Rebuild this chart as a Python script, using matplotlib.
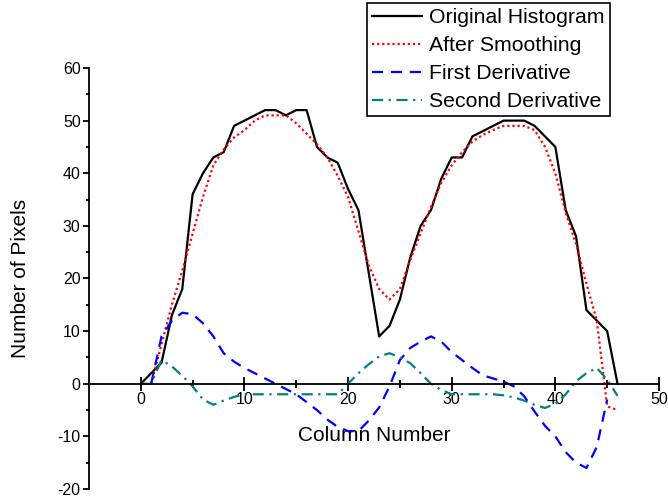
import matplotlib
matplotlib.use('Agg')
import matplotlib.pyplot as plt
from matplotlib.ticker import MultipleLocator
import numpy as np

plt.rcParams['font.family'] = ['Liberation Sans', 'DejaVu Sans']
plt.rcParams['axes.unicode_minus'] = False

# histogram of pixel counts per column and its processed versions
columns = np.arange(0, 47)
original = [0, 2, 4, 13, 18, 36, 40, 43, 44, 49,
            50, 51, 52, 52, 51, 52, 52, 45, 43, 42,
            37, 33, 21, 9, 11, 16, 24, 30, 33, 39,
            43, 43, 47, 48, 49, 50, 50, 50, 49, 47,
            45, 33, 28, 14, 12, 10, 0]

smooth_cols = np.arange(1, 47)
smoothed = [0, 7.5, 15, 21.5, 28.5, 35.5, 41.5, 44.5, 46.8, 48.2,
            50, 51, 51, 51, 49.5, 47.5, 45.5, 43, 39.5, 35.5,
            29, 22.5, 18, 16, 18, 23.5, 28.6, 33.6, 38.2, 41.5,
            44, 46, 47.3, 48.2, 49, 49, 49, 48.2, 45, 40,
            32.5, 26.5, 19, 12, -4.3, -5]

first_cols = np.arange(1, 46)
first_deriv = [0, 9, 12, 13.5, 13.2, 11.5, 9, 5.8, 4.2, 3,
               2, 1, 0, -1, -2, -3.5, -5, -6.8, -8.2, -9,
               -9, -7, -4.5, -0.5, 4.5, 6.8, 8, 9, 8, 6,
               4.5, 3, 1.6, 1, 0.4, -0.5, -2.4, -5.3, -8, -10,
               -13, -15, -16, -12, -3]

second_cols = np.arange(0, 47)
second_deriv = [0, 0, 4.5, 3.3, 1.5, -0.5, -3, -4, -3.2, -2.5,
                -2, -2, -2, -2, -2, -2, -2, -2, -2, -2,
                0, 2, 3.7, 5.2, 5.8, 5, 3.9, 2, 0, -1.2,
                -2, -2, -2, -2, -2, -2.2, -2.6, -3.2, -4, -4.6,
                -3.8, -2, 0.5, 2, 3, 0.8, -2.3]

fig = plt.figure(figsize=(6.68, 4.97), dpi=100)
ax = fig.add_axes([0.1332, 0.0161, 0.8533, 0.8471])

ax.plot(columns, original, color='black', lw=1.6, label='Original Histogram')
ax.plot(smooth_cols, smoothed, color='red', lw=1.6, linestyle=(0, (1, 1.3)),
        label='After Smoothing')
ax.plot(first_cols, first_deriv, color='blue', lw=1.6, linestyle=(0, (5, 3.5)),
        label='First Derivative')
ax.plot(second_cols, second_deriv, color='#008080', lw=1.6,
        linestyle=(0, (5, 2.5, 1, 2.5)), label='Second Derivative')

ax.set_xlim(-5, 50)
ax.set_ylim(-20, 60)
ax.spines['top'].set_visible(False)
ax.spines['right'].set_visible(False)
ax.spines['bottom'].set_position(('data', 0))
ax.spines['bottom'].set_linewidth(1.3)
ax.spines['left'].set_linewidth(1.3)

ax.set_xticks([0, 10, 20, 30, 40, 50])
ax.xaxis.set_minor_locator(MultipleLocator(5))
ax.yaxis.set_major_locator(MultipleLocator(10))
ax.yaxis.set_minor_locator(MultipleLocator(5))
ax.tick_params(axis='x', which='major', direction='inout', length=10, width=1.3,
               labelsize=11.5, pad=1)
ax.tick_params(axis='x', which='minor', direction='inout', length=6, width=1.3)
ax.tick_params(axis='y', which='major', direction='out', length=4, width=1.3,
               labelsize=11.5, pad=2)
ax.tick_params(axis='y', which='minor', direction='out', length=2.5, width=1.3)

ax.set_xlabel('Column Number', fontsize=15)
ax.xaxis.label.set_va('center')
ax.xaxis.set_label_coords(0.5, 0.128)
ax.set_ylabel('Number of Pixels', fontsize=15)
ax.yaxis.label.set_va('center')
ax.yaxis.set_label_coords(-0.121, 0.5)

leg = fig.legend(loc='upper left', bbox_to_anchor=(0.549, 0.994), fontsize=15.3,
                 frameon=True, fancybox=False, framealpha=1, borderpad=0.25,
                 labelspacing=0.42, handlelength=2.35, handletextpad=0.35,
                 borderaxespad=0)
leg.get_frame().set_edgecolor('black')
leg.get_frame().set_linewidth(1.2)

fig.savefig('out.png', dpi=100)
